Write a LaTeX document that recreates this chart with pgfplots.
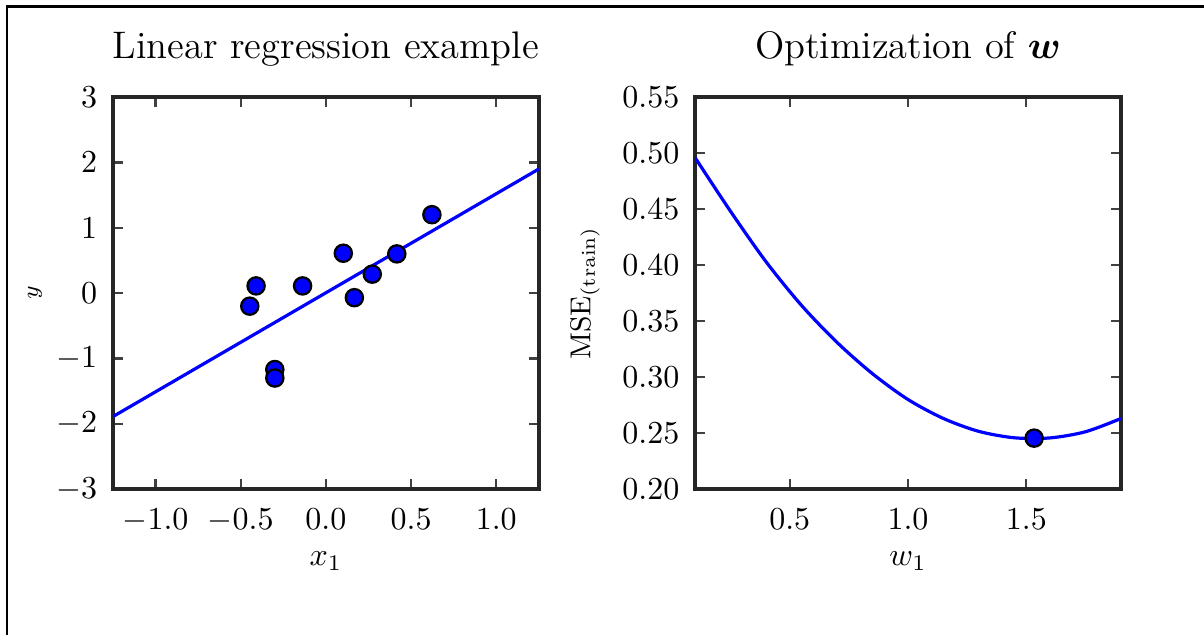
\documentclass[border=0pt]{standalone}
\usepackage{pgfplots}
\pgfplotsset{compat=1.18}
\usepackage{amsmath,bm}

\pgfplotsset{
  panel/.style={
    width=133.1pt, height=122.5pt, scale only axis,
    anchor=south west,
    tick align=inside,
    axis line style={line width=1.1pt, black!85},
    major tick length=3.2pt,
    tick style={black!75, line width=0.7pt},
    tick label style={font=\normalsize},
    title style={at={(axis description cs:0.5,1.074)}, anchor=center, font=\large},
    xlabel style={at={(axis description cs:0.5,-0.183)}, anchor=center},
    xticklabel style={yshift=-2.5pt},
    yticklabel style={xshift=-1.4pt},
  },
}

\begin{document}
\begin{tikzpicture}
\path[use as bounding box] (0pt,0pt) rectangle (376.25pt,198.44pt);
\draw[line width=0.9pt] (2.2pt,0pt) -- (2.2pt,196.3pt) -- (376.25pt,196.3pt);

% left panel: data and fitted line
\begin{axis}[panel, at={(35.3pt,45.6pt)},
  title={Linear regression example},
  xmin=-1.25, xmax=1.25, ymin=-3, ymax=3,
  xtick={-1,-0.5,0,0.5,1}, ytick={-3,-2,-1,0,1,2,3},
  xticklabel style={/pgf/number format/.cd, fixed, fixed zerofill, precision=1},
  xlabel={$x_1$},
  ylabel={$y$},
  ylabel style={at={(axis description cs:-0.183,0.5)}, anchor=center, font=\scriptsize},
]
  \addplot[blue, line width=1pt] coordinates {(-1.25,-1.89) (1.25,1.90)};
  \addplot[only marks, mark=*, mark size=2.7pt,
    mark options={fill=blue, draw=black, line width=0.7pt}] coordinates {
    (-0.447,-0.20) (-0.41,0.11) (-0.30,-1.17) (-0.30,-1.30) (-0.137,0.11)
    (0.102,0.61) (0.167,-0.07) (0.272,0.29) (0.416,0.60) (0.622,1.20)
  };
\end{axis}

% right panel: training error against w1
\begin{axis}[panel, at={(217.2pt,45.6pt)},
  title={Optimization of $\bm{w}$},
  xmin=0.1, xmax=1.9, ymin=0.2, ymax=0.55,
  xtick={0.5,1.0,1.5}, ytick={0.20,0.25,0.30,0.35,0.40,0.45,0.50,0.55},
  xticklabel style={/pgf/number format/.cd, fixed, fixed zerofill, precision=1},
  yticklabel style={/pgf/number format/.cd, fixed, fixed zerofill, precision=2},
  xlabel={$w_1$},
  ylabel={$\mathrm{MSE}_{(\mathrm{train})}$},
  ylabel style={at={(axis description cs:-0.258,0.5)}, anchor=center, font=\small},
]
  \addplot[blue, line width=1pt, smooth] coordinates {
    (0.10,0.496) (0.25,0.448) (0.40,0.403) (0.55,0.364) (0.70,0.331)
    (0.85,0.303) (1.00,0.280) (1.15,0.263) (1.30,0.2515) (1.45,0.2458)
    (1.60,0.2457) (1.75,0.2512) (1.90,0.263)
  };
  \addplot[only marks, mark=*, mark size=2.7pt,
    mark options={fill=blue, draw=black, line width=0.7pt}] coordinates {(1.533,0.2455)};
\end{axis}
\end{tikzpicture}
\end{document}
